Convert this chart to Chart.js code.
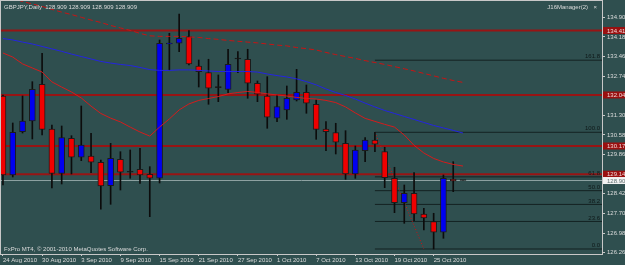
<!DOCTYPE html>
<html>
<head>
<meta charset="utf-8">
<title>GBPJPY,Daily</title>
<script src="https://cdn.jsdelivr.net/npm/chart.js@4.4.0/dist/chart.umd.min.js"></script>
<style>
  html, body { margin: 0; padding: 0; background: #2f4f4f; overflow: hidden; }
</style>
</head>
<body>
<canvas id="chart" width="625" height="265"></canvas>
<script>
// GBPJPY daily candles, 24 Aug - 28 Oct 2010
const symbol = 'GBPJPY';

const dates = [
  '24 Aug 2010', '25 Aug 2010', '26 Aug 2010', '27 Aug 2010', '30 Aug 2010', '31 Aug 2010',
  '1 Sep 2010', '2 Sep 2010', '3 Sep 2010', '6 Sep 2010', '7 Sep 2010', '8 Sep 2010',
  '9 Sep 2010', '10 Sep 2010', '13 Sep 2010', '14 Sep 2010', '15 Sep 2010', '16 Sep 2010',
  '17 Sep 2010', '20 Sep 2010', '21 Sep 2010', '22 Sep 2010', '23 Sep 2010', '24 Sep 2010',
  '27 Sep 2010', '28 Sep 2010', '29 Sep 2010', '30 Sep 2010', '1 Oct 2010', '4 Oct 2010',
  '5 Oct 2010', '6 Oct 2010', '7 Oct 2010', '8 Oct 2010', '11 Oct 2010', '12 Oct 2010',
  '13 Oct 2010', '14 Oct 2010', '15 Oct 2010', '18 Oct 2010', '19 Oct 2010', '20 Oct 2010',
  '21 Oct 2010', '22 Oct 2010', '25 Oct 2010', '26 Oct 2010', '27 Oct 2010', '28 Oct 2010'
];

const opens = [
  132.012, 129.112, 130.701, 131.094, 132.441, 130.800, 129.174, 130.459, 129.762, 129.809,
  129.578, 128.719, 129.688, 129.211, 129.321, 129.138, 128.991, 133.920, 133.946, 134.188,
  133.113, 132.867, 132.316, 132.257, 133.370, 133.359, 132.478, 132.012, 131.193, 131.498,
  131.865, 132.147, 131.707, 130.800, 130.664, 130.275, 129.149, 130.004, 130.397, 129.967,
  128.991, 128.095, 128.440, 127.680, 127.398, 127.009, 128.965, 128.909
];
const highs = [
  132.049, 131.021, 132.012, 132.536, 133.579, 130.947, 130.910, 130.554, 131.644, 130.642,
  129.662, 130.275, 129.967, 130.030, 130.092, 129.417, 134.067, 134.313, 135.021, 134.408,
  133.333, 133.359, 132.782, 133.726, 133.638, 133.726, 132.562, 132.720, 132.049, 132.378,
  132.991, 132.415, 131.865, 131.068, 131.010, 130.738, 130.176, 130.481, 130.679, 130.129,
  129.395, 128.745, 129.196, 127.890, 127.706, 129.112, 129.600, 128.909
];
const lows = [
  128.745, 129.039, 130.653, 130.433, 130.580, 128.635, 128.782, 129.149, 129.637, 129.196,
  127.853, 128.036, 128.561, 128.991, 128.807, 127.581, 128.818, 132.966, 133.638, 133.149,
  132.342, 131.707, 131.802, 132.133, 132.867, 131.927, 131.802, 130.826, 131.068, 131.156,
  131.828, 131.377, 130.422, 130.004, 129.883, 128.954, 128.991, 129.600, 129.967, 128.646,
  127.728, 127.339, 127.435, 127.093, 126.396, 126.789, 128.499, 128.909
];
const closes = [
  129.112, 130.679, 131.094, 132.257, 130.789, 129.174, 130.481, 129.762, 130.213, 129.578,
  128.708, 129.725, 129.211, 129.211, 129.112, 128.991, 133.946, 133.957, 134.129, 133.186,
  132.903, 132.294, 132.316, 133.175, 133.370, 132.478, 132.074, 131.230, 131.619, 131.927,
  132.147, 131.744, 130.789, 130.701, 130.312, 129.149, 130.030, 130.397, 130.239, 129.013,
  128.095, 128.440, 127.680, 127.534, 127.009, 128.991, 128.892, 128.909
];

// moving averages
const maBlue = [
  134.12, 134.07, 133.99, 133.92, 133.83, 133.74, 133.65, 133.55, 133.46, 133.37,
  133.28, 133.22, 133.17, 133.13, 133.06, 132.98, 132.95, 132.95, 132.97, 132.97,
  132.95, 132.93, 132.91, 132.91, 132.91, 132.91, 132.89, 132.82, 132.76, 132.71,
  132.64, 132.54, 132.42, 132.27, 132.14, 132.03, 131.90, 131.75, 131.61, 131.48,
  131.37, 131.26, 131.15, 131.04, 130.93, 130.84, 130.75, 130.65
];
const maRed = [
  133.59, 133.44, 133.19, 133.04, 132.89, 132.53, 132.34, 132.16, 131.94, 131.64,
  131.37, 131.20, 131.06, 130.87, 130.69, 130.54, 130.87, 131.17, 131.50, 131.72,
  131.85, 131.92, 131.99, 132.09, 132.14, 132.18, 132.14, 132.09, 132.05, 132.01,
  131.96, 131.92, 131.90, 131.85, 131.77, 131.61, 131.39, 131.19, 131.08, 130.97,
  130.87, 130.58, 130.20, 129.92, 129.72, 129.59, 129.50, 129.44
];
const maDashed = [
  135.68, 135.59, 135.48, 135.39, 135.30, 135.19, 135.09, 135.00, 134.90, 134.80,
  134.71, 134.60, 134.51, 134.42, 134.31, 134.22, 134.20, 134.20, 134.20, 134.18,
  134.16, 134.12, 134.09, 134.05, 134.02, 133.99, 133.96, 133.92, 133.88, 133.85,
  133.79, 133.75, 133.70, 133.61, 133.53, 133.46, 133.39, 133.31, 133.24, 133.17,
  133.09, 133.01, 132.93, 132.84, 132.75, 132.66, 132.58, 132.51
];

// horizontal lines
const redLevels = [134.414, 132.049, 130.176, 129.140];
const bidPrice = 128.909;

// fibonacci from 15 Oct high down to the 25 Oct low
const fibRatios = [0.0, 23.6, 38.2, 50.0, 61.8, 100.0, 161.8];
const fibBars = [38, 43];
const fibHigh = highs[38];
const fibLow = lows[44];

// price axis ticks and date ticks
const yTicks = [126.26, 126.98, 127.70, 128.42, 129.14, 129.86, 130.58, 131.30, 132.02, 132.74, 133.46, 134.18, 134.90];
const dateTickBars = [0, 4, 8, 12, 16, 20, 24, 28, 32, 36, 40, 44];

const xMin = -0.2, xMax = 61.2;
const yMin = 126.212, yMax = 135.498;

const bg = '#2f4f4f';
const frameColor = '#c8c8c8';
const textColor = '#dcdcdc';
const smallFont = '6px "Liberation Sans", Arial, sans-serif';

Chart.defaults.font.family = '"Liberation Sans", Arial, sans-serif';
Chart.defaults.font.size = 6;
Chart.defaults.color = textColor;

function candleColor(i) {
  if (closes[i] > opens[i]) return '#0000f0';
  if (closes[i] < opens[i]) return '#f00000';
  return '#101010';
}

const bars = dates.map((d, i) => i);
const wickData = bars.map(i => ({ x: i, y: [lows[i], highs[i]] }));
const bodyData = bars.map(i => ({ x: i, y: [opens[i], closes[i]] }));

function lineSet(points, color, width, dash, order) {
  return {
    type: 'line',
    data: points,
    borderColor: color,
    borderWidth: width,
    borderDash: dash || [],
    pointRadius: 0,
    tension: 0,
    fill: false,
    order: order
  };
}

const fibLevels = fibRatios.map(r => fibLow + (fibHigh - fibLow) * r / 100);

const datasets = [];
redLevels.forEach(v => {
  datasets.push(lineSet([{ x: xMin, y: v }, { x: xMax, y: v }], '#981414', 2, null, 10));
});
fibLevels.forEach(v => {
  datasets.push(lineSet([{ x: fibBars[0], y: v }, { x: xMax, y: v }], '#142222', 1, null, 9));
});
datasets.push(lineSet([{ x: xMin, y: bidPrice }, { x: xMax, y: bidPrice }], '#8ea2a2', 1, null, 9));
datasets.push(lineSet([{ x: fibBars[0], y: fibHigh }, { x: fibBars[1], y: fibLow }], '#d01010', 1, [1, 2], 8));

datasets.push({
  type: 'bar',
  data: wickData,
  backgroundColor: '#0c0c0c',
  borderWidth: 0,
  barThickness: 1,
  grouped: false,
  order: 5
});
datasets.push({
  type: 'bar',
  data: bodyData,
  backgroundColor: ctx => candleColor(ctx.dataIndex),
  borderColor: '#1c1c1c',
  borderWidth: 1,
  borderSkipped: false,
  barThickness: 6,
  minBarLength: 1,
  grouped: false,
  order: 4
});

datasets.push(lineSet(maDashed.map((v, i) => ({ x: i, y: v })), '#c81414', 1, [5, 3], 2));
datasets.push(lineSet(maRed.map((v, i) => ({ x: i, y: v })), '#d41c1c', 1, null, 1));
datasets.push(lineSet(maBlue.map((v, i) => ({ x: i, y: v })), '#2424e0', 1, null, 1));

const mt4Overlay = {
  id: 'mt4Overlay',
  beforeDraw(chart) {
    const ctx = chart.ctx;
    ctx.save();
    ctx.fillStyle = bg;
    ctx.fillRect(0, 0, chart.width, chart.height);
    ctx.restore();
  },
  afterDraw(chart) {
    const { ctx, chartArea: a } = chart;
    const y = chart.scales.y;
    ctx.save();

    // frame
    ctx.strokeStyle = frameColor;
    ctx.lineWidth = 1;
    ctx.strokeRect(a.left - 0.5, a.top - 0.5, a.right - a.left + 1, a.bottom - a.top + 1);

    ctx.font = smallFont;

    // fibo level texts
    ctx.fillStyle = '#0e1818';
    ctx.textAlign = 'right';
    ctx.textBaseline = 'bottom';
    fibRatios.forEach((r, k) => {
      ctx.fillText(r.toFixed(1), a.right - 2, y.getPixelForValue(fibLevels[k]) - 0.5);
    });

    // price boxes on the axis
    ctx.textAlign = 'left';
    ctx.textBaseline = 'middle';
    redLevels.forEach(v => {
      const py = y.getPixelForValue(v);
      ctx.fillStyle = '#9a1010';
      ctx.fillRect(a.right + 1, py - 3.5, chart.width - a.right - 1, 7);
      ctx.fillStyle = '#f0d8d8';
      ctx.fillText(v.toFixed(3), a.right + 5, py + 0.5);
    });
    const by = y.getPixelForValue(bidPrice);
    ctx.fillStyle = '#f2f2f2';
    ctx.fillRect(a.right + 1, by - 3.5, chart.width - a.right - 1, 7);
    ctx.fillStyle = '#607070';
    ctx.fillText(bidPrice.toFixed(3), a.right + 5, by + 0.5);

    // header and footer texts
    const last = dates.length - 1;
    ctx.fillStyle = textColor;
    ctx.fillText(symbol + ',Daily  ' + [opens[last], highs[last], lows[last], closes[last]].map(v => v.toFixed(3)).join(' '), a.left + 3, a.top + 6);
    ctx.fillText('FxPro MT4, \u00a9 2001-2010 MetaQuotes Software Corp.', a.left + 3, a.bottom - 5);
    ctx.textAlign = 'right';
    ctx.fillText('J16Manager(2)', a.right - 14, a.top + 6);
    ctx.fillText('\u00d7', a.right - 5, a.top + 6);

    ctx.restore();
  }
};

new Chart(document.getElementById('chart'), {
  type: 'bar',
  data: { datasets: datasets },
  options: {
    responsive: false,
    animation: false,
    events: [],
    layout: { padding: { left: 1, top: 1, right: 0, bottom: 0 } },
    plugins: {
      legend: { display: false },
      tooltip: { enabled: false }
    },
    scales: {
      x: {
        type: 'linear',
        min: xMin,
        max: xMax,
        offset: false,
        grid: { display: true, offset: false, drawOnChartArea: false, tickLength: 2, color: frameColor },
        border: { display: true, color: frameColor },
        ticks: {
          autoSkip: false,
          maxRotation: 0,
          align: 'start',
          padding: 1,
          color: textColor,
          callback: (value, index) => dates[dateTickBars[index]]
        },
        afterBuildTicks: s => { s.ticks = dateTickBars.map(v => ({ value: v })); },
        afterFit: s => { s.height = 11; s.paddingLeft = 0; s.paddingRight = 0; }
      },
      y: {
        type: 'linear',
        position: 'right',
        min: yMin,
        max: yMax,
        grid: { display: true, drawOnChartArea: false, tickLength: 3, color: frameColor },
        border: { display: true, color: frameColor },
        ticks: {
          padding: 2,
          color: textColor,
          callback: value => value.toFixed(3)
        },
        afterBuildTicks: s => { s.ticks = yTicks.map(v => ({ value: v })); },
        afterFit: s => { s.width = 23; s.paddingTop = 0; s.paddingBottom = 0; }
      }
    }
  },
  plugins: [mt4Overlay]
});
</script>
</body>
</html>
